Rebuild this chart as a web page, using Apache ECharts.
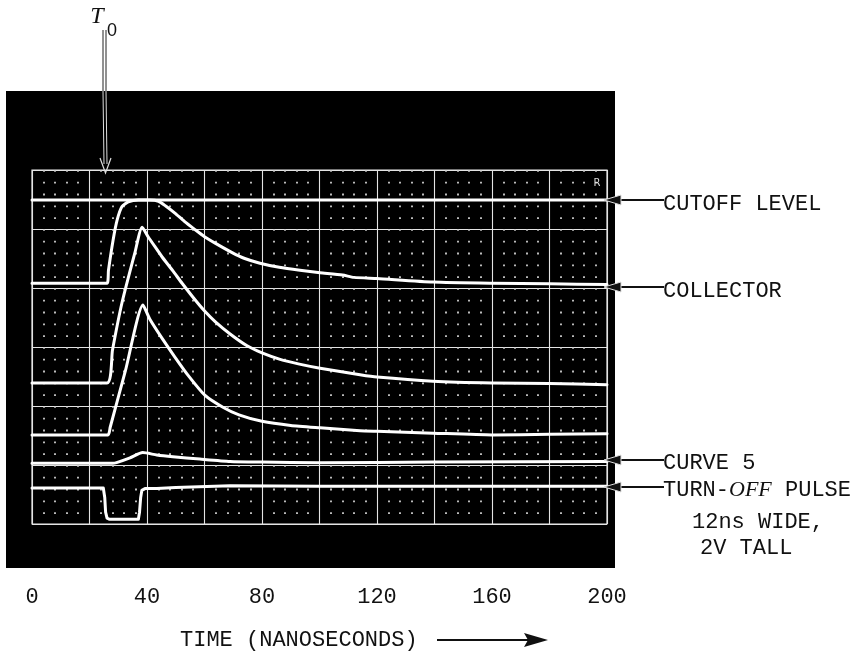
<!DOCTYPE html>
<html>
<head>
<meta charset="utf-8">
<script src="https://cdn.jsdelivr.net/npm/echarts@6/dist/echarts.min.js"></script>
<style>
html,body{margin:0;padding:0;background:#fff;}
#c{width:864px;height:653px;}
</style>
</head>
<body>
<div id="c"></div>
<script>
// ---- data (time in ns, amplitude in graticule divisions from bottom) ----
const xTickValues = [0, 40, 80, 120, 160, 200];
const xAxisTitle = 'TIME (NANOSECONDS)';

const cutoffT = [0, 200];
const cutoffV = [5.49, 5.49];

const collectorT = [0, 26.1, 26.6, 28.2, 29.6, 31.3, 33.5, 37, 41, 44, 46.5, 49.7, 53, 56.7, 60, 63.7, 69.6, 74, 79.3, 86, 93.2, 100.2, 108, 112, 120, 139.5, 160, 180, 200];
const collectorV = [4.08, 4.08, 4.3, 4.81, 5.15, 5.38, 5.46, 5.49, 5.49, 5.47, 5.39, 5.27, 5.13, 4.99, 4.87, 4.76, 4.6, 4.5, 4.42, 4.35, 4.3, 4.26, 4.22, 4.18, 4.16, 4.1, 4.08, 4.07, 4.06];

const trace2T = [0, 26.1, 28, 31.3, 35.8, 38.3, 40.5, 43.5, 45.2, 49, 52.2, 56.7, 60.2, 63.7, 68.9, 74.8, 80, 86.3, 93, 100.2, 114.1, 120, 139.5, 160, 180, 200];
const trace2V = [2.39, 2.39, 2.95, 3.75, 4.6, 5.03, 4.86, 4.65, 4.53, 4.29, 4.08, 3.8, 3.6, 3.43, 3.22, 3.02, 2.9, 2.79, 2.71, 2.64, 2.53, 2.49, 2.42, 2.39, 2.38, 2.36];

const trace3T = [0, 26.4, 27.2, 32.5, 38.6, 41, 45.2, 49.7, 54.3, 60.2, 66.4, 72, 80, 90, 100.2, 114.1, 120, 139.5, 160, 180, 200];
const trace3V = [1.51, 1.51, 1.64, 2.6, 3.71, 3.47, 3.15, 2.83, 2.52, 2.18, 1.98, 1.85, 1.74, 1.67, 1.63, 1.58, 1.57, 1.54, 1.51, 1.52, 1.53];

const curve5T = [0, 28, 29.4, 34.1, 38.5, 43.4, 49, 58.4, 68.9, 80, 100, 140, 200];
const curve5V = [1.03, 1.03, 1.04, 1.12, 1.21, 1.17, 1.14, 1.1, 1.06, 1.05, 1.04, 1.05, 1.06];

const pulseT = [0, 24.8, 25.3, 25.6, 26.1, 27, 32, 37, 37.4, 37.8, 38.2, 39.3, 43.4, 50, 68.9, 100, 200];
const pulseV = [0.61, 0.61, 0.45, 0.2, 0.1, 0.08, 0.08, 0.08, 0.2, 0.45, 0.57, 0.6, 0.6, 0.62, 0.65, 0.64, 0.64];

const rightLabels = ['CUTOFF LEVEL', 'COLLECTOR', 'CURVE 5', 'TURN-{i|OFF} PULSE', '12ns WIDE,', '2V TALL'];

// ---- helpers ----
const zip = (t, v) => t.map((x, i) => [x, v[i]]);
const trace = (name, t, v) => ({
  name, type: 'line', data: zip(t, v), symbol: 'none', smooth: 0.2,
  lineStyle: { color: '#ffffff', width: 3, join: 'round', cap: 'round' }, z: 5, silent: true
});

const chart = echarts.init(document.getElementById('c'), null, { renderer: 'canvas' });
const MONO = '"Liberation Mono", "DejaVu Sans Mono", monospace';
const txt = (text, x, y, size, extra) => Object.assign({
  type: 'text', z: 20,
  style: Object.assign({ text, x, y, font: size + 'px ' + MONO, fill: '#111', textVerticalAlign: 'middle' }, extra || {})
});
const arrowLeft = (y) => ([
  { type: 'line', z: 20, shape: { x1: 614, y1: y, x2: 664, y2: y }, style: { stroke: '#111', lineWidth: 2 } },
  { type: 'polygon', z: 21, shape: { points: [[604, y], [621, y - 5], [621, y + 5]] }, style: { fill: '#111', stroke: '#ddd', lineWidth: 1 } }
]);

const option = {
  animation: false,
  backgroundColor: '#ffffff',
  grid: { left: 32, top: 170, width: 575, height: 354, show: true, borderColor: '#ececec', borderWidth: 1.2, containLabel: false },
  xAxis: {
    type: 'value', min: 0, max: 200, interval: 20,
    axisLine: { show: false }, axisTick: { show: false },
    splitLine: { show: true, lineStyle: { color: '#e4e4e4', width: 1.1 } },
    minorTick: { show: false, splitNumber: 5 },
    minorSplitLine: { show: true, lineStyle: { color: '#d0d0d0', width: 1.8, type: [1.8, 10] } },
    axisLabel: {
      formatter: (v) => (xTickValues.indexOf(v) >= 0 ? String(v) : ''),
      fontFamily: MONO, fontSize: 22, color: '#111', margin: 62
    }
  },
  yAxis: {
    type: 'value', min: 0, max: 6, interval: 1,
    axisLine: { show: false }, axisTick: { show: false }, axisLabel: { show: false },
    splitLine: { show: true, lineStyle: { color: '#e4e4e4', width: 1.1 } }
  },
  series: [
    trace('cutoff', cutoffT, cutoffV),
    trace('collector', collectorT, collectorV),
    trace('trace2', trace2T, trace2V),
    trace('trace3', trace3T, trace3V),
    trace('curve5', curve5T, curve5V),
    Object.assign(trace('pulse', pulseT, pulseV), { smooth: false })
  ],
  graphic: [
    { type: 'rect', z: -100, zlevel: 0, shape: { x: 6, y: 91, width: 609, height: 477 }, style: { fill: '#000' } },
    // T0 marker
    { type: 'text', z: 20, style: { text: 'T', x: 97, y: 17, font: 'italic 24px "Liberation Serif", serif', fill: '#111', textAlign: 'center', textVerticalAlign: 'middle' } },
    { type: 'text', z: 20, style: { text: '0', x: 112, y: 31, font: '18px "Liberation Sans", sans-serif', fill: '#111', textAlign: 'center', textVerticalAlign: 'middle' } },
    { type: 'line', z: 20, shape: { x1: 103, y1: 30, x2: 103, y2: 91 }, style: { stroke: '#222', lineWidth: 1 } },
    { type: 'line', z: 20, shape: { x1: 106, y1: 30, x2: 106, y2: 91 }, style: { stroke: '#222', lineWidth: 1 } },
    { type: 'line', z: 20, shape: { x1: 103, y1: 91, x2: 104, y2: 164 }, style: { stroke: '#ddd', lineWidth: 1 } },
    { type: 'line', z: 20, shape: { x1: 106, y1: 91, x2: 107, y2: 164 }, style: { stroke: '#ddd', lineWidth: 1 } },
    { type: 'polyline', z: 20, shape: { points: [[100, 158], [105.5, 173], [111, 158]] }, style: { stroke: '#ddd', lineWidth: 1.2, fill: null } },
    // R marker
    { type: 'text', z: 20, style: { text: 'R', x: 597, y: 183, font: '10px "DejaVu Sans", sans-serif', fill: '#ddd', textAlign: 'center', textVerticalAlign: 'middle' } },
    // right labels
    ...arrowLeft(200), ...arrowLeft(287), ...arrowLeft(460), ...arrowLeft(487),
    txt(rightLabels[0], 663, 204, 22),
    txt(rightLabels[1], 663, 291, 22),
    txt(rightLabels[2], 663, 463, 22),
    txt(rightLabels[3], 663, 490, 22, { rich: { i: { fontFamily: '"Liberation Serif", serif', fontStyle: 'italic', fontSize: 22, fill: '#111' } } }),
    txt(rightLabels[4], 692, 522, 22),
    txt(rightLabels[5], 700, 548, 22),
    // axis title with arrow
    txt(xAxisTitle, 180, 640, 22),
    { type: 'line', z: 20, shape: { x1: 437, y1: 640, x2: 530, y2: 640 }, style: { stroke: '#111', lineWidth: 2 } },
    { type: 'polygon', z: 20, shape: { points: [[548, 640], [524, 633], [528, 640], [524, 647]] }, style: { fill: '#111' } }
  ]
};
chart.setOption(option);
</script>
</body>
</html>
